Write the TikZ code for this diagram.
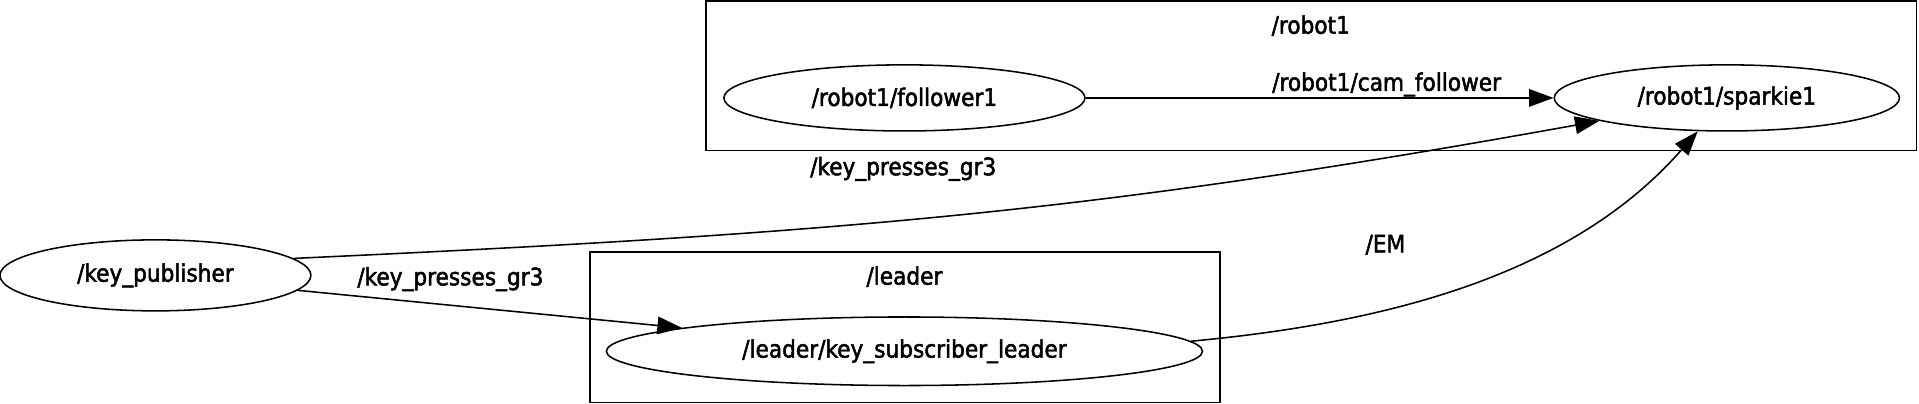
\documentclass[tikz,border=0pt]{standalone}
\usepackage{fontspec}
\setmainfont{DejaVu Sans Condensed}[UprightFeatures={FakeBold=2}]
\usepackage{tikz}
\usetikzlibrary{positioning,shapes,arrows,arrows.meta}

\begin{document}
\begin{tikzpicture}[
    x=0.025cm, y=-0.025cm,
    font=\fontsize{14}{16}\selectfont,
    rosnode/.style={draw, ellipse, inner sep=0pt, line width=0.9pt},
    cluster/.style={draw, rectangle, inner sep=0pt, line width=0.9pt},
    arrow/.style={-{Triangle[length=5mm, width=3.6mm]}, line width=0.9pt},
    lbl/.style={inner sep=0pt}
]
\useasboundingbox (0,0) rectangle (1568,330);

% Clusters
\node[cluster, minimum width=24.725cm, minimum height=3.05cm] (robot1) at (1071.5,62) {};
\node[cluster, minimum width=12.875cm, minimum height=3.075cm] (leader) at (739.5,267.5) {};
\node[lbl] (robot1_title) at (1071,21) {/robot1};
\node[lbl] (leader_title) at (739,226) {/leader};

% Nodes
\node[rosnode, minimum width=7.375cm, minimum height=1.35cm] (follower) at (739,80) {/robot1/follower1};
\node[rosnode, minimum width=7.05cm, minimum height=1.35cm] (sparkie) at (1411,80) {/robot1/sparkie1};
\node[rosnode, minimum width=6.35cm, minimum height=1.45cm] (publisher) at (127,225) {/key\_publisher};
\node[rosnode, minimum width=12.175cm, minimum height=1.4cm] (subscriber) at (739,287) {/leader/key\_subscriber\_leader};

% Connections
\draw[arrow] (follower) -- (sparkie);
\draw[arrow] (publisher.7) .. controls (700,190) and (900,172) .. (sparkie);
\draw[arrow] (publisher.-6) -- (subscriber.174);
\draw[arrow] (subscriber.2) .. controls (1120,265) and (1280,230) .. (sparkie);

% Labels
\node[lbl] (cam_label) at (1133,69) {/robot1/cam\_follower};
\node[lbl] (keys_label_top) at (738,138) {/key\_presses\_gr3};
\node[lbl] (keys_label_low) at (368,228) {/key\_presses\_gr3};
\node[lbl] (em_label) at (1132,200) {/EM};

\end{tikzpicture}
\end{document}
